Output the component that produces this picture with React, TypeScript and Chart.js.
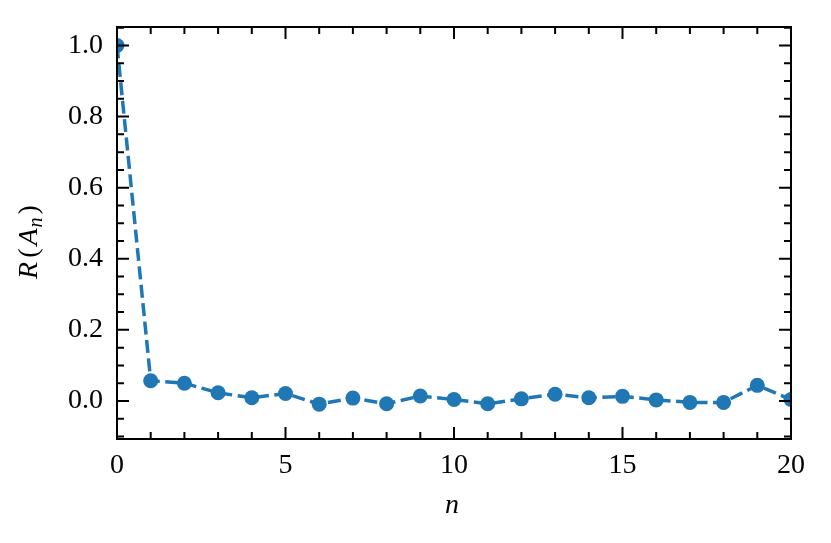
import React, { useEffect, useRef } from "react";
import { Chart, registerables } from "chart.js";

Chart.register(...registerables);

const lags: number[] = [0,1,2,3,4,5,6,7,8,9,10,11,12,13,14,15,16,17,18,19,20];
const acf: number[] = [1.0,0.057,0.05,0.023,0.009,0.021,-0.009,0.008,-0.008,0.014,0.004,-0.008,0.006,0.019,0.009,0.013,0.003,-0.004,-0.004,0.044,0.004];
const yTickValues: number[] = [0, 0.2, 0.4, 0.6, 0.8, 1.0];
const xTickValues: number[] = [0, 5, 10, 15, 20];

const SERIF = "'Liberation Serif', 'Times New Roman', serif";
const BLUE = "#1f77b4";

const framePlugin = {
  id: "frameTicks",
  afterDatasetsDraw(chart: any) {
    const { ctx, chartArea } = chart;
    const { left, right, top, bottom } = chartArea;
    const xs = chart.scales.x;
    const ys = chart.scales.y;
    ctx.save();
    ctx.strokeStyle = "#000";
    ctx.lineWidth = 2;
    ctx.lineCap = "butt";
    const major = 12;
    const minor = 7;
    for (let v = 0; v <= 20; v += 1) {
      const px = xs.getPixelForValue(v);
      const len = v % 5 === 0 ? major : minor;
      ctx.beginPath();
      ctx.moveTo(px, bottom);
      ctx.lineTo(px, bottom - len);
      ctx.moveTo(px, top);
      ctx.lineTo(px, top + len);
      ctx.stroke();
    }
    for (let i = -2; i <= 21; i++) {
      const v = i * 0.05;
      if (v < ys.min || v > ys.max) continue;
      const py = ys.getPixelForValue(v);
      const len = i % 4 === 0 ? major : minor;
      ctx.beginPath();
      ctx.moveTo(left, py);
      ctx.lineTo(left + len, py);
      ctx.moveTo(right, py);
      ctx.lineTo(right - len, py);
      ctx.stroke();
    }
    ctx.lineWidth = 2;
    ctx.strokeRect(left, top, right - left, bottom - top);
    ctx.restore();
  },
  afterDraw(chart: any) {
    const { ctx, chartArea } = chart;
    ctx.save();
    ctx.fillStyle = "#000";
    ctx.font = `italic 28px ${SERIF}`;
    ctx.textAlign = "center";
    ctx.textBaseline = "alphabetic";
    ctx.fillText("n", (chartArea.left + chartArea.right) / 2 - 2, 513);
    ctx.translate(37, 242);
    ctx.rotate(-Math.PI / 2);
    const parts = [
      { t: "R", f: `italic 28px ${SERIF}`, dy: 0, gap: 4 },
      { t: "(", f: `28px ${SERIF}`, dy: 0, gap: 3 },
      { t: "A", f: `italic 28px ${SERIF}`, dy: 0, gap: 1 },
      { t: "n", f: `italic 20px ${SERIF}`, dy: 5, gap: 3 },
      { t: ")", f: `28px ${SERIF}`, dy: 0, gap: 0 },
    ];
    let total = 0;
    for (const p of parts) {
      ctx.font = p.f;
      total += ctx.measureText(p.t).width + p.gap;
    }
    let x = -total / 2;
    ctx.textAlign = "left";
    for (const p of parts) {
      ctx.font = p.f;
      ctx.fillText(p.t, x, p.dy);
      x += ctx.measureText(p.t).width + p.gap;
    }
    ctx.restore();
  },
};

export default function App() {
  const ref = useRef<HTMLCanvasElement | null>(null);
  useEffect(() => {
    if (!ref.current) return;
    const chart = new Chart(ref.current, {
      type: "line",
      data: {
        datasets: [
          {
            data: lags.map((n, i) => ({ x: n, y: acf[i] })),
            borderColor: BLUE,
            backgroundColor: BLUE,
            borderWidth: 3.5,
            borderDash: [13, 5.5],
            pointRadius: 7.5,
            pointBorderWidth: 0,
            pointBackgroundColor: BLUE,
            tension: 0,
            clip: 0,
          },
        ],
      },
      options: {
        animation: false,
        responsive: false,
        devicePixelRatio: 1,
        layout: { padding: { top: 27, right: 40, left: 0, bottom: 0 } },
        plugins: { legend: { display: false }, tooltip: { enabled: false } },
        scales: {
          x: {
            type: "linear",
            min: 0,
            max: 20,
            grid: { display: false, drawTicks: false },
            border: { display: false },
            afterBuildTicks: (s: any) => {
              s.ticks = xTickValues.map((v) => ({ value: v }));
            },
            afterFit: (s: any) => {
              s.height = 104;
              s.paddingLeft = 0;
              s.paddingRight = 0;
            },
            ticks: {
              color: "#000",
              padding: 10,
              maxRotation: 0,
              font: { family: SERIF, size: 28 },
              callback: (v: any) => String(v),
            },
          },
          y: {
            type: "linear",
            min: -0.107,
            max: 1.052,
            grid: { display: false, drawTicks: false },
            border: { display: false },
            afterBuildTicks: (s: any) => {
              s.ticks = yTickValues.map((v) => ({ value: v }));
            },
            afterFit: (s: any) => {
              s.width = 117;
              s.paddingTop = 0;
              s.paddingBottom = 0;
            },
            ticks: {
              color: "#000",
              padding: 14,
              font: { family: SERIF, size: 28 },
              callback: (v: any) => Number(v).toFixed(1),
            },
          },
        },
      },
      plugins: [framePlugin],
    } as any);
    return () => chart.destroy();
  }, []);
  return (
    <div style={{ position: "fixed", left: 0, top: 0, width: 831, height: 543, background: "#fff" }}>
      <canvas ref={ref} width={831} height={543} style={{ width: 831, height: 543, display: "block" }} />
    </div>
  );
}
